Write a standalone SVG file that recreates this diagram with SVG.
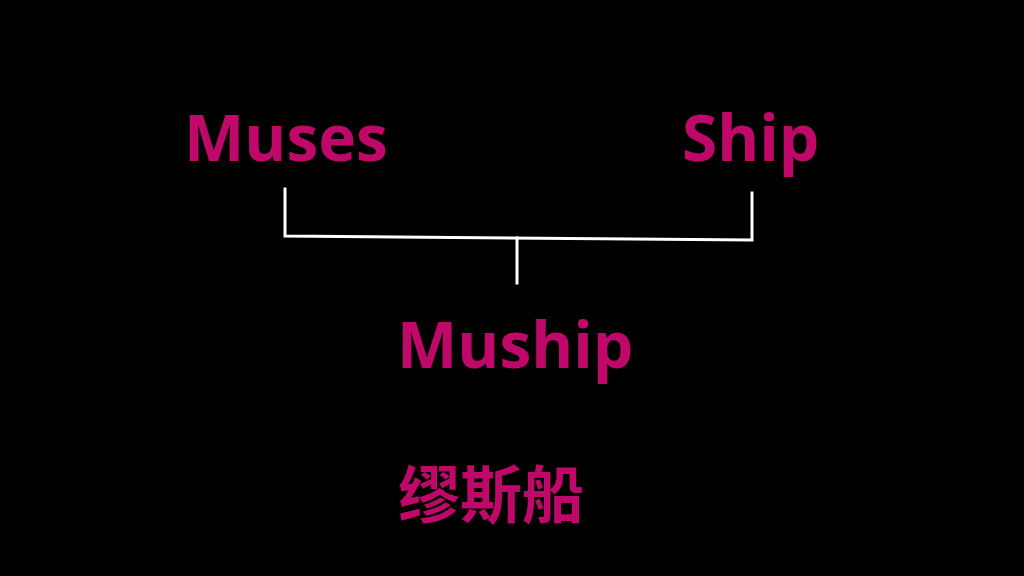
<svg xmlns="http://www.w3.org/2000/svg" width="1024" height="576" viewBox="0 0 1024 576">
<style>
.t{font-family:"Open Sans","Noto Sans",sans-serif;font-weight:700;fill:#C0086A;font-size:64px}
.c{font-family:"Noto Sans CJK SC",sans-serif;font-weight:700;fill:#C0086A;font-size:62px}
.l{stroke:#FFFFFF;stroke-width:3;fill:none;stroke-linecap:square}
</style>
<rect width="1024" height="576" fill="#000000"/>
<g id="node-muses"><text class="t" x="184" y="161">Muses</text></g>
<g id="node-ship"><text class="t" x="682" y="161">Ship</text></g>
<g id="node-muship"><text class="t" x="397" y="368">Muship</text></g>
<g id="node-cn"><text class="c" x="398" y="518">缪斯船</text></g>
<g id="connectors">
<polyline class="l" points="285,189 285,236 752,240 752,193"/>
<line class="l" x1="517" y1="238" x2="517" y2="283"/>
</g>
</svg>
